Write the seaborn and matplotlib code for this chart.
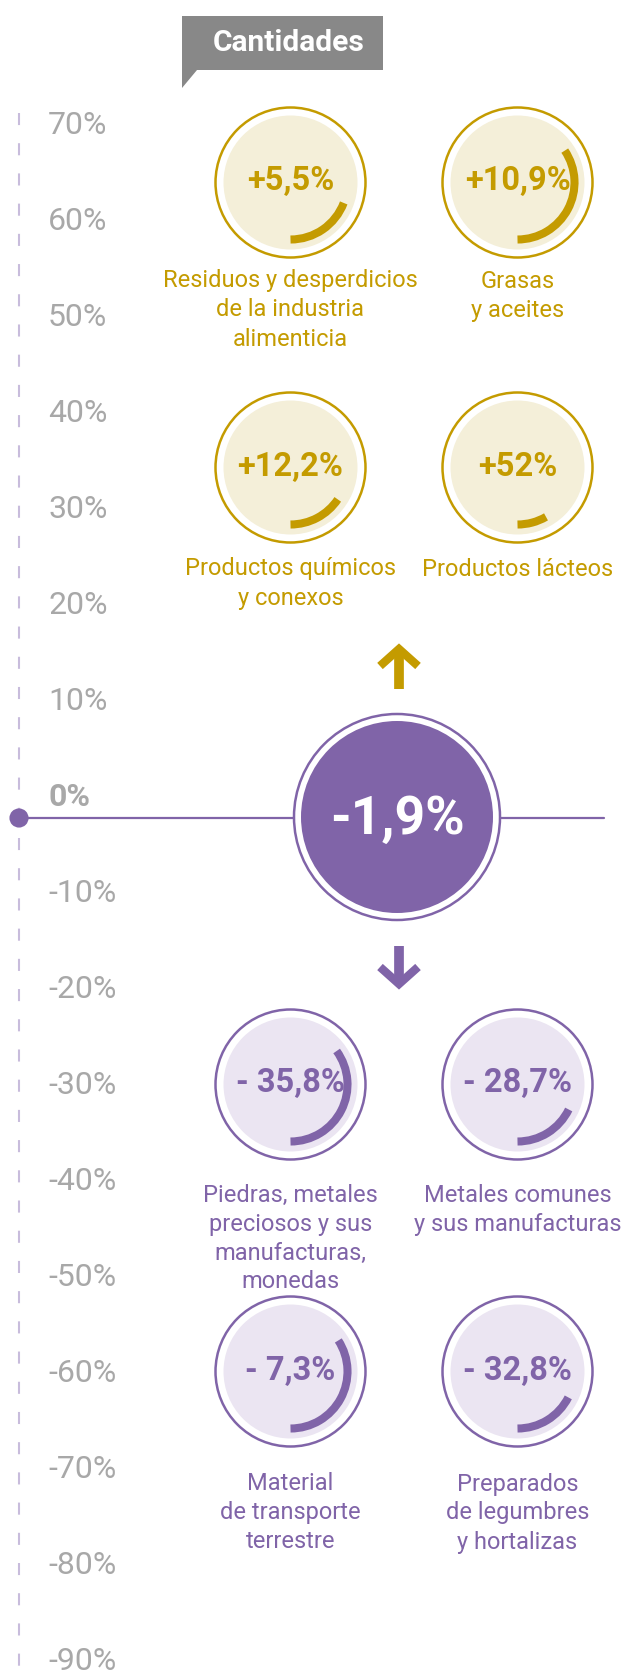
import matplotlib.pyplot as plt
import seaborn as sns
from matplotlib.patches import Circle, Arc, Polygon

# datos
tick_values = list(range(70, -91, -10))
total_value = '-1,9%'

up_labels = ['Residuos y desperdicios\nde la industria\nalimenticia', 'Grasas\ny aceites',
             'Productos químicos\ny conexos', 'Productos lácteos']
up_values = ['+5,5%', '+10,9%', '+12,2%', '+52%']
up_arc = [69, 124, 56, 30]   # grados del arco

down_labels = ['Piedras, metales\npreciosos y sus\nmanufacturas,\nmonedas', 'Metales comunes\ny sus manufacturas',
               'Material\nde transporte\nterrestre', 'Preparados\nde legumbres\ny hortalizas']
down_values = ['- 35,8%', '- 28,7%', '- 7,3%', '- 32,8%']
down_arc = [126, 64, 123, 63]

GOLD = '#c49b00'
CREAM = '#f4efd9'
PURPLE = '#8064a8'
LILAC = '#ebe5f2'
GRAY = '#a8a8a8'

W, H = 636, 1670
ZERO = 818          # pixel del 0%
PX_PCT = 9.6        # pixeles por punto porcentual
FONT = 'Roboto'


def Y(py):
    return H - py


sns.set_theme(style='white')
plt.rcParams['font.family'] = [FONT, 'DejaVu Sans']

fig = plt.figure(figsize=(W / 100, H / 100), dpi=100)
ax = fig.add_axes([0, 0, 1, 1])
ax.set_xlim(0, W)
ax.set_ylim(0, H)
ax.set_aspect('equal')
ax.axis('off')

# eje vertical punteado
ax.plot([19, 19], [Y(113), 0], color='#c8bcdc', lw=1.5, dashes=[5.8, 8.7], zorder=1)
for t in tick_values:
    ty = Y(ZERO - t * PX_PCT - 21)
    ax.text(48, ty, f'{t}%', ha='left', va='center', color=GRAY, fontsize=23,
            fontweight='bold' if t == 0 else 'normal')

# linea del cero y punto
ax.plot([19, 604], [Y(ZERO), Y(ZERO)], color=PURPLE, lw=1.6, zorder=1)
sns.scatterplot(x=[19], y=[Y(ZERO)], color=PURPLE, s=190, edgecolor='none', ax=ax, zorder=3)

# circulo central
cx, cy = 397, Y(817)
ax.add_patch(Circle((cx, cy), 103, facecolor='white', edgecolor=PURPLE, lw=1.8, zorder=2))
ax.add_patch(Circle((cx, cy), 96, facecolor=PURPLE, edgecolor='none', zorder=3))
ax.text(cx, cy - 2, total_value, ha='center', va='center', color='white', fontsize=38.5,
        fontweight='bold', zorder=4)

# flechas
ax.plot([399, 399], [Y(689), Y(652)], color=GOLD, lw=7, solid_capstyle='butt')
ax.plot([380, 399, 418], [Y(666), Y(649), Y(666)], color=GOLD, lw=6, solid_joinstyle='miter',
        solid_capstyle='butt')
ax.plot([399, 399], [Y(946), Y(982)], color=PURPLE, lw=7, solid_capstyle='butt')
ax.plot([380, 399, 418], [Y(967), Y(984), Y(967)], color=PURPLE, lw=6, solid_joinstyle='miter',
        solid_capstyle='butt')

# etiqueta "Cantidades"
ax.add_patch(Polygon([(182, Y(16)), (383, Y(16)), (383, Y(70)), (197, Y(70)), (182, Y(88))],
                     closed=True, facecolor='#888888', edgecolor='none'))
ax.text(289, Y(43), 'Cantidades', ha='center', va='center', color='white', fontsize=21.5,
        fontweight='bold')

cols = [290.5, 517.5]


def draw_bubble(x, y, value, sweep, label, label_y, main, fill):
    ax.add_patch(Circle((x, y), 75, facecolor='white', edgecolor=main, lw=1.8, zorder=2))
    ax.add_patch(Circle((x, y), 67, facecolor=fill, edgecolor='none', zorder=3))
    arc = Arc((x, y), 114, 114, theta1=-90, theta2=-90 + sweep, color=main, lw=5.8, zorder=4)
    arc.set_capstyle('butt')
    ax.add_patch(arc)
    ax.text(x, y + 1, value, ha='center', va='center', color=main, fontsize=23.5,
            fontweight='bold', zorder=5)
    for i, line in enumerate(label.split('\n')):
        ax.text(x, Y(label_y + i * 29), line, ha='center', va='center', color=main, fontsize=17)


up_rows = [(182.5, 281), (467.5, 569)]
for i in range(4):
    row_y, lab_y = up_rows[i // 2]
    draw_bubble(cols[i % 2], Y(row_y), up_values[i], up_arc[i], up_labels[i], lab_y, GOLD, CREAM)

down_rows = [(1084.5, 1195), (1371.5, 1484)]
for i in range(4):
    row_y, lab_y = down_rows[i // 2]
    draw_bubble(cols[i % 2], Y(row_y), down_values[i], down_arc[i], down_labels[i], lab_y, PURPLE, LILAC)

fig.savefig('out.png', dpi=100)
